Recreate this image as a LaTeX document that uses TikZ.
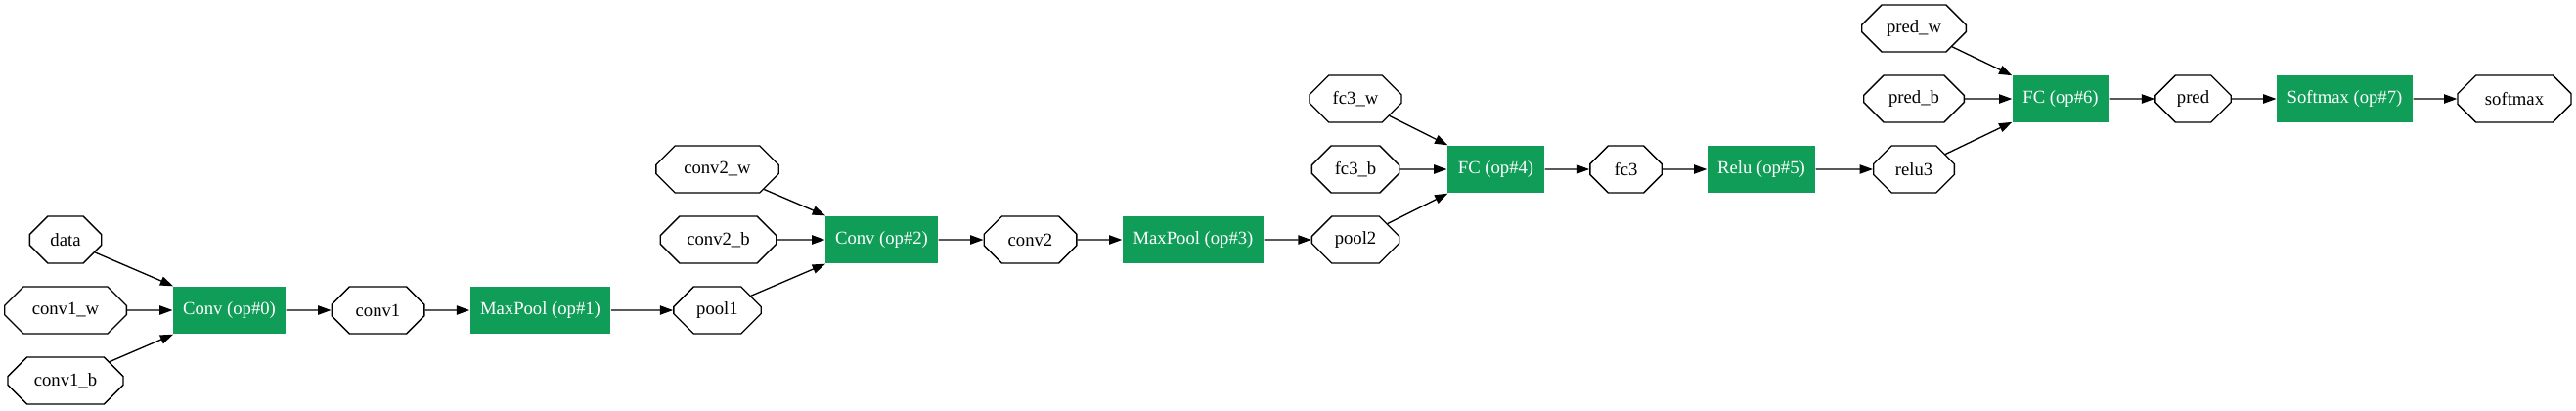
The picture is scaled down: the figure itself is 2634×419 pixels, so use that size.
\documentclass[tikz,border=0pt]{standalone}
\usepackage{fontspec}
\setmainfont{Liberation Serif}
\usepackage{tikz}
\usetikzlibrary{shapes.misc,arrows.meta}
\definecolor{opgreen}{HTML}{0F9D58}

\begin{document}
\begin{tikzpicture}[->, >={Triangle[length=10pt,width=7pt]}, line width=1pt, x=0.75pt, y=-0.75pt,
    tensor node/.style={chamfered rectangle, draw, inner sep=0pt, minimum height=36pt, minimum width=#1pt,
        chamfered rectangle xsep={0.293*#1pt}, chamfered rectangle ysep=9pt, font=\fontsize{14}{16}\selectfont},
    op node/.style={rectangle, fill=opgreen, text=white, inner sep=0pt, minimum height=36pt, minimum width=#1pt,
        font=\fontsize{14}{16}\selectfont}]
    \useasboundingbox (0,0) rectangle (2634,419);

    \node[tensor node=55] (data) at (67,245) {data};
    \node[tensor node=93.5] (conv1w) at (67,317) {conv1\_w};
    \node[tensor node=88.5] (conv1b) at (67,389) {conv1\_b};
    \node[op node=86] (op0) at (234.5,317) {Conv (op\#0)};
    \node[tensor node=71] (conv1) at (386.5,317) {conv1};
    \node[op node=107.5] (op1) at (552.5,317) {MaxPool (op\#1)};
    \node[tensor node=67] (pool1) at (733.5,317) {pool1};

    \node[tensor node=94] (conv2w) at (733.5,173) {conv2\_w};
    \node[tensor node=89] (conv2b) at (734.5,245) {conv2\_b};
    \node[op node=86] (op2) at (901.5,245) {Conv (op\#2)};
    \node[tensor node=71] (conv2) at (1053.5,245) {conv2};
    \node[op node=108] (op3) at (1220,245) {MaxPool (op\#3)};
    \node[tensor node=67] (pool2) at (1386,245) {pool2};

    \node[tensor node=70.5] (fc3w) at (1386,101) {fc3\_w};
    \node[tensor node=67] (fc3b) at (1386,173) {fc3\_b};
    \node[op node=74] (op4) at (1529.5,173) {FC (op\#4)};
    \node[tensor node=55] (fc3) at (1662.5,173) {fc3};
    \node[op node=82.5] (op5) at (1801,173) {Relu (op\#5)};
    \node[tensor node=62] (relu3) at (1957,173) {relu3};

    \node[tensor node=80] (predw) at (1957,29) {pred\_w};
    \node[tensor node=77] (predb) at (1957,101) {pred\_b};
    \node[op node=73.5] (op6) at (2107,101) {FC (op\#6)};
    \node[tensor node=58] (pred) at (2242.5,101) {pred};
    \node[op node=104] (op7) at (2397.5,101) {Softmax (op\#7)};
    \node[tensor node=87] (softmax) at (2571,101) {softmax};

    \path[->]
        (data) edge (op0)
        (conv1w) edge (op0)
        (conv1b) edge (op0)
        (op0) edge (conv1)
        (conv1) edge (op1)
        (op1) edge (pool1)
        (conv2w) edge (op2)
        (conv2b) edge (op2)
        (pool1) edge (op2)
        (op2) edge (conv2)
        (conv2) edge (op3)
        (op3) edge (pool2)
        (fc3w) edge (op4)
        (fc3b) edge (op4)
        (pool2) edge (op4)
        (op4) edge (fc3)
        (fc3) edge (op5)
        (op5) edge (relu3)
        (predw) edge (op6)
        (predb) edge (op6)
        (relu3) edge (op6)
        (op6) edge (pred)
        (pred) edge (op7)
        (op7) edge (softmax);
\end{tikzpicture}
\end{document}
